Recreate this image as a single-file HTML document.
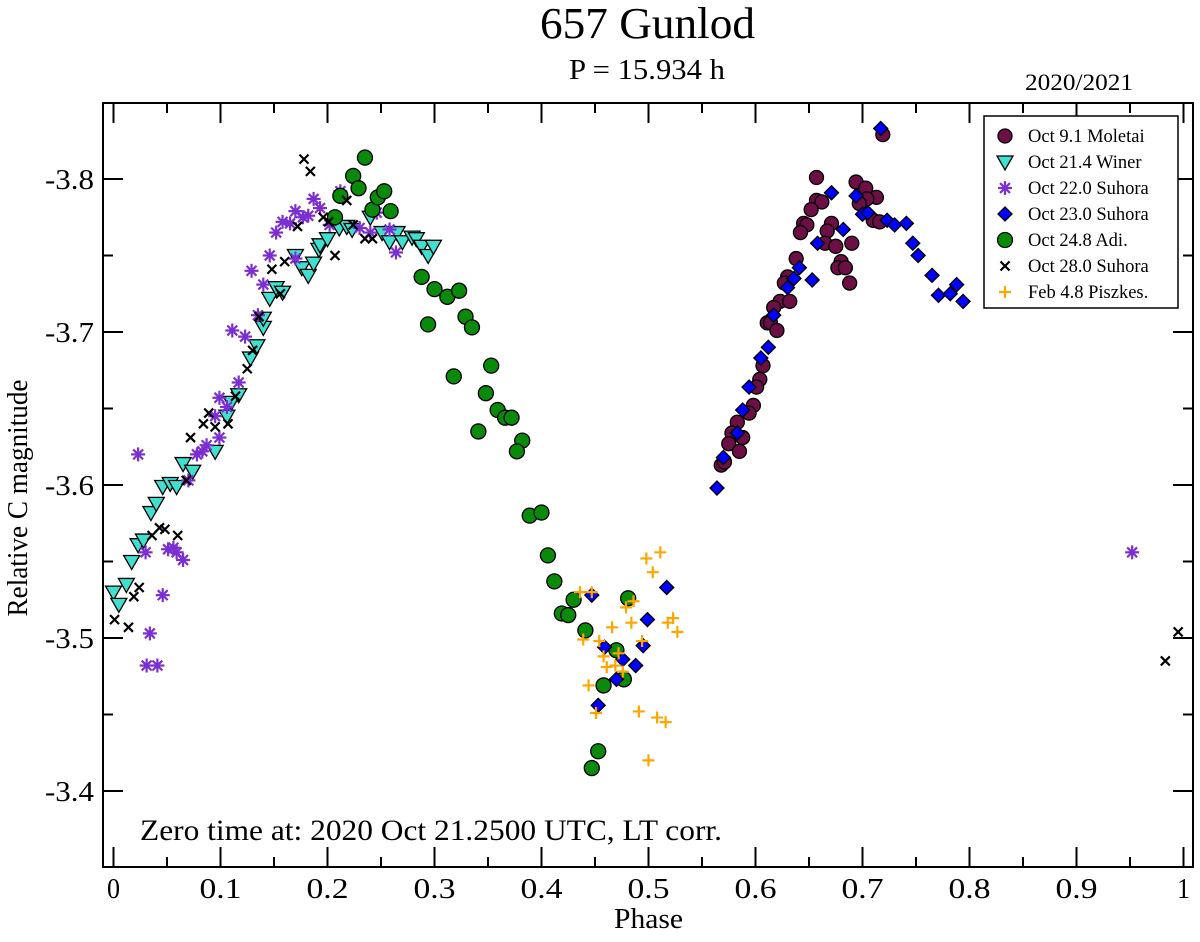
<!DOCTYPE html>
<html><head><meta charset="utf-8"><style>
body{margin:0;background:#fff;}
svg text{font-family:"Liberation Serif",serif;fill:#000;}
</style></head><body>
<svg id="chart" width="1200" height="937" viewBox="0 0 1200 937" xmlns="http://www.w3.org/2000/svg">
<text x="540" y="38" font-size="44" textLength="215" lengthAdjust="spacingAndGlyphs">657 Gunlod</text>
<text x="569" y="79" font-size="29" textLength="156" lengthAdjust="spacingAndGlyphs">P = 15.934 h</text>
<text x="1025" y="90" font-size="23" textLength="108" lengthAdjust="spacingAndGlyphs">2020/2021</text>
<text x="0" y="0" font-size="28" text-anchor="middle" textLength="237" lengthAdjust="spacingAndGlyphs" transform="translate(27,498) rotate(-90)">Relative C magnitude</text>
<text x="614" y="928" font-size="28" textLength="69" lengthAdjust="spacingAndGlyphs">Phase</text>
<g id="axes"></g>
<g id="marks"></g>
<text x="140" y="840" font-size="30" textLength="582" lengthAdjust="spacingAndGlyphs">Zero time at: 2020 Oct 21.2500 UTC, LT corr.</text>
<g id="legend"></g>
</svg>
<script>
const xTicks=[0,0.1,0.2,0.3,0.4,0.5,0.6,0.7,0.8,0.9,1];
const xTickLabels=["0","0.1","0.2","0.3","0.4","0.5","0.6","0.7","0.8","0.9","1"];
const yTicks=[-3.8,-3.7,-3.6,-3.5,-3.4];
const yTickLabels=["-3.8","-3.7","-3.6","-3.5","-3.4"];
const seriesNames=["Oct 9.1 Moletai","Oct 21.4 Winer","Oct 22.0 Suhora","Oct 23.0 Suhora","Oct 24.8 Adi.","Oct 28.0 Suhora","Feb 4.8 Piszkes."];
const moletaiPhase=[.657,.694,.703,.713,.704,.697,.657,.662,.652,.719,.645,.648,.642,.671,.667,.710,.716,.665,.675,.690,.638,.680,.677,.684,.688,.630,.627,.623,.632,.617,.611,.614,.620,.607,.604,.601,.598,.594,.583,.578,.588,.575,.585,.568,.571];
const moletaiMag=[-3.801,-3.798,-3.794,-3.788,-3.787,-3.784,-3.786,-3.785,-3.780,-3.829,-3.771,-3.770,-3.765,-3.771,-3.766,-3.773,-3.772,-3.758,-3.756,-3.758,-3.748,-3.746,-3.742,-3.742,-3.732,-3.736,-3.732,-3.720,-3.720,-3.716,-3.706,-3.706,-3.701,-3.678,-3.669,-3.664,-3.652,-3.647,-3.641,-3.634,-3.631,-3.627,-3.622,-3.613,-3.615];
const winerPhase=[0,.005,.012,.017,.023,.028,.035,.040,.046,.053,.059,.065,.074,.095,.106,.110,.117,.128,.134,.140,.140,.146,.152,.158,.170,.176,.182,.187,.192,.193,.200,.211,.218,.223,.240,.251,.258,.265,.270,.279,.283,.288,.294,.299];
const winerMag=[-3.530,-3.522,-3.535,-3.550,-3.561,-3.564,-3.582,-3.588,-3.599,-3.601,-3.599,-3.614,-3.609,-3.622,-3.645,-3.654,-3.659,-3.683,-3.691,-3.703,-3.709,-3.722,-3.729,-3.726,-3.750,-3.742,-3.737,-3.745,-3.754,-3.757,-3.761,-3.768,-3.769,-3.767,-3.775,-3.765,-3.759,-3.765,-3.759,-3.762,-3.761,-3.756,-3.750,-3.756];
const suhora22Phase=[.023,.030,.046,.034,.031,.041,.051,.056,.059,.065,.070,.078,.083,.087,.099,.095,.099,.106,.117,.111,.123,.135,.140,.129,.146,.152,.158,.165,.170,.177,.182,.187,.193,.202,.212,.230,.240,.246,.258,.264,.170,.952];
const suhora22Mag=[-3.620,-3.556,-3.528,-3.503,-3.482,-3.482,-3.558,-3.559,-3.556,-3.551,-3.603,-3.620,-3.622,-3.626,-3.631,-3.645,-3.657,-3.651,-3.667,-3.701,-3.697,-3.711,-3.731,-3.740,-3.750,-3.765,-3.772,-3.771,-3.779,-3.775,-3.776,-3.787,-3.781,-3.770,-3.792,-3.768,-3.765,-3.778,-3.767,-3.752,-3.748,-3.556];
const suhora23Phase=[.717,.671,.694,.700,.705,.723,.730,.741,.682,.658,.747,.752,.765,.788,.771,.782,.794,.641,.636,.653,.630,.617,.612,.605,.594,.588,.583,.570,.564,.447,.517,.499,.459,.495,.476,.488,.470,.453];
const suhora23Mag=[-3.833,-3.791,-3.789,-3.777,-3.778,-3.773,-3.770,-3.771,-3.767,-3.758,-3.758,-3.750,-3.737,-3.731,-3.724,-3.725,-3.720,-3.742,-3.735,-3.734,-3.729,-3.711,-3.690,-3.683,-3.664,-3.649,-3.634,-3.618,-3.598,-3.528,-3.533,-3.512,-3.494,-3.495,-3.486,-3.482,-3.473,-3.456];
const adiPhase=[.235,.224,.229,.212,.207,.242,.247,.253,.259,.288,.300,.312,.323,.294,.318,.329,.335,.353,.348,.359,.366,.372,.341,.382,.377,.389,.400,.406,.412,.419,.425,.430,.441,.453,.447,.458,.470,.477,.481];
const adiMag=[-3.814,-3.802,-3.794,-3.789,-3.775,-3.780,-3.788,-3.792,-3.779,-3.736,-3.728,-3.723,-3.727,-3.705,-3.671,-3.710,-3.703,-3.678,-3.660,-3.649,-3.644,-3.644,-3.635,-3.629,-3.622,-3.580,-3.582,-3.554,-3.537,-3.516,-3.515,-3.525,-3.505,-3.426,-3.415,-3.469,-3.492,-3.473,-3.526];
const suhora28Phase=[.178,.184,.218,.172,.196,.201,.207,.224,.235,.242,.160,.148,.156,.136,.130,.125,.114,.107,.095,.089,.084,.072,.068,.060,.048,.043,.036,.024,.019,.001,.014,.995,.983];
const suhora28Mag=[-3.813,-3.805,-3.786,-3.769,-3.775,-3.772,-3.750,-3.770,-3.761,-3.761,-3.746,-3.741,-3.725,-3.710,-3.688,-3.676,-3.658,-3.640,-3.638,-3.647,-3.640,-3.631,-3.603,-3.567,-3.571,-3.572,-3.567,-3.533,-3.527,-3.512,-3.507,-3.504,-3.485];
const piszkesPhase=[.511,.498,.504,.436,.447,.486,.479,.484,.466,.523,.518,.527,.439,.454,.494,.458,.472,.461,.469,.476,.444,.451,.491,.508,.516,.500];
const piszkesMag=[-3.556,-3.552,-3.543,-3.530,-3.530,-3.524,-3.520,-3.510,-3.507,-3.513,-3.510,-3.504,-3.499,-3.498,-3.498,-3.488,-3.490,-3.481,-3.482,-3.478,-3.469,-3.451,-3.452,-3.448,-3.445,-3.420];

const NS="http://www.w3.org/2000/svg";
const L=103,R=1193,T=103,B=867;
function xs(p){return 113.5+p*1070;}
function ys(m){return 179+(m+3.8)*1530;}
function mk(tag,attrs,parent){const e=document.createElementNS(NS,tag);for(const k in attrs)e.setAttribute(k,attrs[k]);parent.appendChild(e);return e;}
const axes=document.getElementById('axes');
const frame=mk('rect',{x:L,y:T,width:R-L,height:B-T,fill:'none',stroke:'#000','stroke-width':2},axes);


for(let i=0;i<=20;i++){
  const p=i*0.05,x=xs(p),len=(i%2==0)?20:10;
  const t1=mk('line',{x1:x,y1:B,x2:x,y2:B-len,stroke:'#000','stroke-width':2},axes);
  
  
  const t2=mk('line',{x1:x,y1:T,x2:x,y2:T+len,stroke:'#000','stroke-width':2},axes);
  
  
}
xTicks.forEach((p,i)=>{
  const lab=xTickLabels[i];
  const w=lab.length===1?13:42;
  const t=mk('text',{x:xs(p)-w/2,y:898,'font-size':28,textLength:w,lengthAdjust:'spacingAndGlyphs'},axes);
  t.textContent=lab;
  
  
});
for(let m=-3.85;m<=-3.349;m+=0.05){
  const y=ys(m);if(y<T+1||y>B-1)continue;
  const major=Math.abs(Math.round(m*10)-m*10)<0.01;const len=major?20:10;
  const a=mk('line',{x1:L,y1:y,x2:L+len,y2:y,stroke:'#000','stroke-width':2},axes);
  
  
  const b=mk('line',{x1:R,y1:y,x2:R-len,y2:y,stroke:'#000','stroke-width':2},axes);
  
  
}
yTicks.forEach((m,i)=>{
  const t=mk('text',{x:45,y:ys(m)+10,'font-size':28,textLength:49,lengthAdjust:'spacingAndGlyphs'},axes);
  t.textContent=yTickLabels[i];
  
  
});
function drawMarker(kind,x,y,parent){
  const g=mk('g',{},parent);
  if(kind==='circle'){mk('circle',{cx:x,cy:y,r:7,fill:'#6b0f45',stroke:'#000','stroke-width':1.3},g);}
  else if(kind==='adi'){mk('circle',{cx:x,cy:y,r:7.5,fill:'#0a8a0a',stroke:'#000','stroke-width':1.3},g);}
  else if(kind==='tri'){mk('polygon',{points:`${x-8},${y-6} ${x+8},${y-6} ${x},${y+8}`,fill:'#40e0d0',stroke:'#000','stroke-width':1.3},g);}
  else if(kind==='diamond'){mk('polygon',{points:`${x},${y-7} ${x+7},${y} ${x},${y+7} ${x-7},${y}`,fill:'#0000ff',stroke:'#000','stroke-width':1.3},g);}
  else if(kind==='star'){for(let a=0;a<4;a++){const an=a*Math.PI/4;mk('line',{x1:x-7*Math.cos(an),y1:y-7*Math.sin(an),x2:x+7*Math.cos(an),y2:y+7*Math.sin(an),stroke:'#7b2fd0','stroke-width':2.2},g);}}
  else if(kind==='x'){mk('path',{d:`M${x-4.5},${y-4.5}L${x+4.5},${y+4.5}M${x-4.5},${y+4.5}L${x+4.5},${y-4.5}`,stroke:'#000','stroke-width':2.2},g);}
  else if(kind==='plus'){mk('path',{d:`M${x-6},${y}L${x+6},${y}M${x},${y-6}L${x},${y+6}`,stroke:'#ffa500','stroke-width':2.2},g);}
  return g;
}
const marks=document.getElementById('marks');
const series=[
 ['circle',moletaiPhase,moletaiMag,'moletai-point'],
 ['tri',winerPhase,winerMag,'winer-point'],
 ['star',suhora22Phase,suhora22Mag,'suhora-oct22-point'],
 ['adi',adiPhase,adiMag,'adi-point'],
 ['diamond',suhora23Phase,suhora23Mag,'suhora-oct23-point'],
 ['x',suhora28Phase,suhora28Mag,'suhora-oct28-point'],
 ['plus',piszkesPhase,piszkesMag,'piszkes-point']
];
series.forEach(s=>{
  s[1].forEach((p,i)=>{
    const g=drawMarker(s[0],xs(p),ys(s[2][i]),marks);
    
    
  });
});
const leg=document.getElementById('legend');
const box=mk('rect',{x:984,y:116,width:194,height:192,fill:'#fff',stroke:'#000','stroke-width':1.5},leg);


const legKinds=['circle','tri','star','diamond','adi','x','plus'];
seriesNames.forEach((n,i)=>{
  const y=136+i*26;
  const g=drawMarker(legKinds[i],1005,y,leg);
  
  
  const t=mk('text',{x:1028,y:y+6,'font-size':18.5},leg);
  t.textContent=n;
  
  
});
</script>
</body></html>
